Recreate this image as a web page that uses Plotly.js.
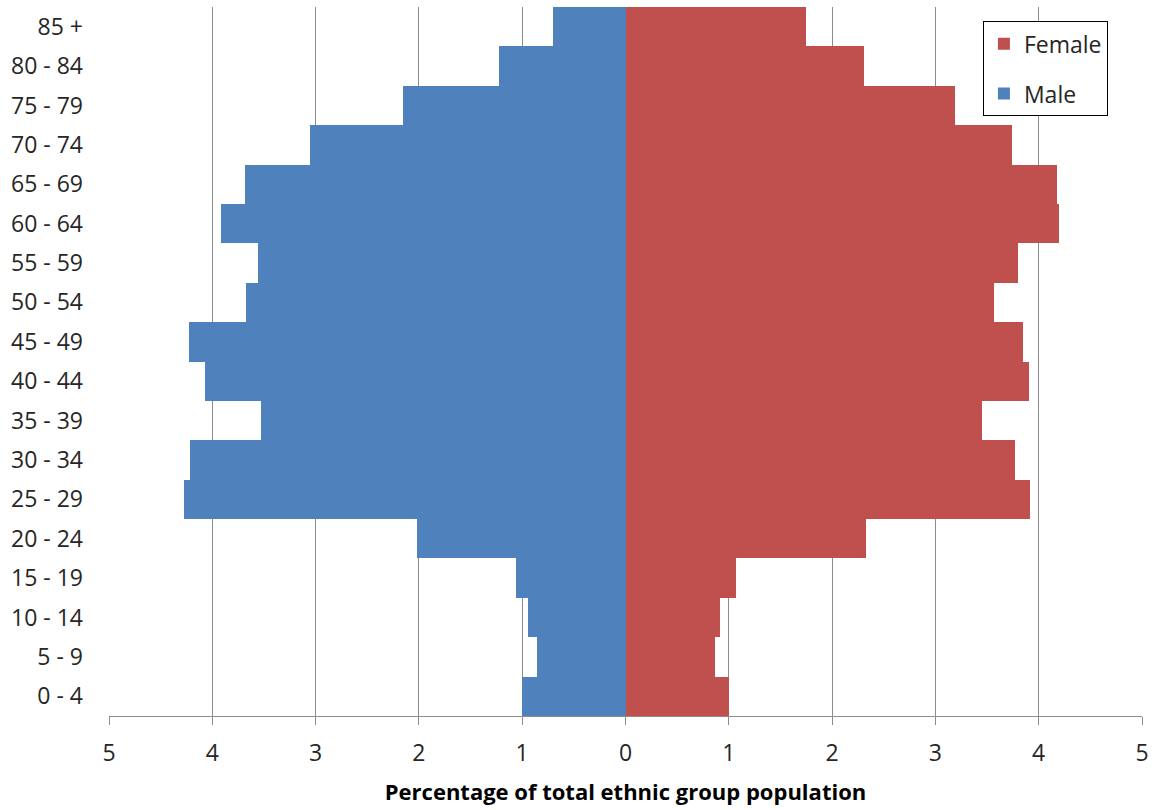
<!DOCTYPE html>
<html>
<head>
<meta charset="utf-8">
<script src="https://cdn.plot.ly/plotly-3.0.1.min.js"></script>
<style>html,body{margin:0;padding:0;background:#fff;}#chart{width:1157px;height:810px;}</style>
</head>
<body>
<div id="chart"></div>
<script>
const ageGroups = ["0 - 4","5 - 9","10 - 14","15 - 19","20 - 24","25 - 29","30 - 34","35 - 39","40 - 44","45 - 49","50 - 54","55 - 59","60 - 64","65 - 69","70 - 74","75 - 79","80 - 84","85 +"];
const malePct   = [1.00, 0.86, 0.94, 1.06, 2.02, 4.27, 4.22, 3.53, 4.07, 4.23, 3.67, 3.56, 3.92, 3.68, 3.05, 2.15, 1.22, 0.70];
const femalePct = [1.00, 0.87, 0.91, 1.07, 2.33, 3.92, 3.77, 3.45, 3.91, 3.85, 3.57, 3.80, 4.20, 4.18, 3.74, 3.19, 2.31, 1.75];
const xTickVals = [-5,-4,-3,-2,-1,0,1,2,3,4,5];
const xTickText = ["5","4","3","2","1","0","1","2","3","4","5"];

const female = {
  type: 'bar', orientation: 'h', name: 'Female',
  y: ageGroups, x: femalePct,
  marker: {color: '#C0504D', line: {width: 0}},
  legendgroup: 'f', hoverinfo: 'x+y'
};
const male = {
  type: 'bar', orientation: 'h', name: 'Male',
  y: ageGroups, x: malePct.map(v => -v),
  marker: {color: '#4F81BD', line: {width: 0}},
  legendgroup: 'm', hoverinfo: 'y'
};

const layout = {
  width: 1157, height: 810,
  margin: {l: 109, r: 15, t: 7, b: 94},
  paper_bgcolor: '#fff', plot_bgcolor: '#fff',
  barmode: 'overlay', bargap: 0,
  font: {family: 'Open Sans, Liberation Sans, sans-serif', size: 22, color: '#262626'},
  xaxis: {
    range: [-5, 5], tickvals: xTickVals, ticktext: xTickText,
    showgrid: true, gridcolor: '#8c8c8c', gridwidth: 1,
    zeroline: false, showline: true, linecolor: '#8c8c8c', linewidth: 1,
    ticks: 'outside', ticklen: 8, tickcolor: '#8c8c8c',
    ticklabelstandoff: 8,
    tickfont: {size: 23},
    title: {text: '<b>Percentage of total ethnic group population</b>', font: {size: 22, color: '#000'}, standoff: 18},
    fixedrange: true
  },
  yaxis: {
    type: 'category', categoryorder: 'array', categoryarray: ageGroups,
    range: [-0.5, 17.5], showgrid: false, zeroline: false, showline: false,
    ticks: '', ticklabelstandoff: 25, tickfont: {size: 23},
    fixedrange: true
  },
  legend: {
    x: 0.846, y: 0.98, xanchor: 'left', yanchor: 'top',
    bgcolor: '#fff', bordercolor: '#000', borderwidth: 1,
    font: {size: 23}, traceorder: 'grouped', tracegroupgap: 17,
    itemwidth: 30
  },
  showlegend: true
};

Plotly.newPlot('chart', [female, male], layout, {displayModeBar: false, staticPlot: true});
</script>
</body>
</html>
